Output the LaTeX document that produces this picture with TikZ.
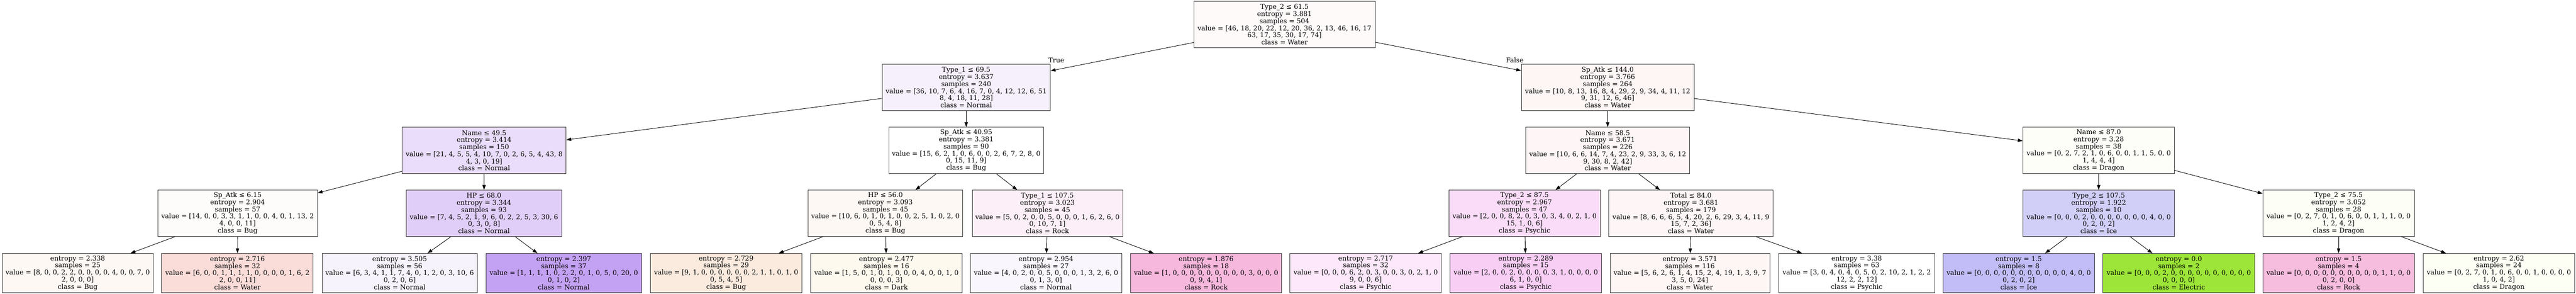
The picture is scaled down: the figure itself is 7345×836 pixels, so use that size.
\documentclass[tikz,border=0pt]{standalone}
\usepackage{fontspec}
\setmainfont{DejaVu Serif}
\usetikzlibrary{arrows.meta}
\definecolor{c0}{HTML}{FEFAFA}
\definecolor{c1}{HTML}{F6F0FD}
\definecolor{c2}{HTML}{FEF5F5}
\definecolor{c3}{HTML}{E9DDFB}
\definecolor{c4}{HTML}{FFFFFF}
\definecolor{c5}{HTML}{FEF6F6}
\definecolor{c6}{HTML}{FEFEF9}
\definecolor{c7}{HTML}{FEFCFA}
\definecolor{c8}{HTML}{E0CEF8}
\definecolor{c9}{HTML}{FEF8F4}
\definecolor{c10}{HTML}{FDEFF7}
\definecolor{c11}{HTML}{FADCF8}
\definecolor{c12}{HTML}{FEF6F6}
\definecolor{c13}{HTML}{D1CEF8}
\definecolor{c14}{HTML}{FDFEF6}
\definecolor{f1}{HTML}{FEF8F4}
\definecolor{f2}{HTML}{FADCD9}
\definecolor{f3}{HTML}{F7F3FD}
\definecolor{f4}{HTML}{C4A2F3}
\definecolor{f5}{HTML}{FBEADE}
\definecolor{f6}{HTML}{FDF9EE}
\definecolor{f7}{HTML}{F9F6FE}
\definecolor{f8}{HTML}{F6B8DC}
\definecolor{f9}{HTML}{FCE8FA}
\definecolor{f10}{HTML}{F8CEF5}
\definecolor{f11}{HTML}{FEF6F5}
\definecolor{f12}{HTML}{FFFFFF}
\definecolor{f13}{HTML}{C2BDF6}
\definecolor{f14}{HTML}{9DE539}
\definecolor{f15}{HTML}{F6BDDE}
\definecolor{f16}{HTML}{FDFEF4}
\begin{document}
\begin{tikzpicture}[x=1pt,y=-1pt,
  tn/.style={rectangle, draw=black!80, line width=1.2pt, align=center, inner sep=0pt,
    minimum height=132pt, font=\fontsize{18.9}{20.2}\selectfont},
  lf/.style={tn, minimum height=111pt},
  ed/.style={-{Triangle[length=14pt,width=9.5pt]}, line width=1.3pt, black},
  el/.style={font=\fontsize{18.9}{20.2}\selectfont, inner sep=0pt}]
\useasboundingbox[fill=white] (0,0) rectangle (7345,836);

% level 0
\node[tn, fill=c0, minimum width=517pt] (n0) at (3662.5,70) {Type\_2 ≤ 61.5\\entropy = 3.881\\samples = 504\\value = [46, 18, 20, 22, 12, 20, 36, 2, 13, 46, 16, 17\\63, 17, 35, 30, 17, 74]\\class = Water};
% level 1
\node[tn, fill=c1, minimum width=480pt] (n1) at (2755,249) {Type\_1 ≤ 69.5\\entropy = 3.637\\samples = 240\\value = [36, 10, 7, 6, 4, 16, 7, 0, 4, 12, 12, 6, 51\\8, 4, 18, 11, 28]\\class = Normal};
\node[tn, fill=c2, minimum width=492pt] (n2) at (4584,249) {Sp\_Atk ≤ 144.0\\entropy = 3.766\\samples = 264\\value = [10, 8, 13, 16, 8, 4, 29, 2, 9, 34, 4, 11, 12\\9, 31, 12, 6, 46]\\class = Water};
% level 2
\node[tn, fill=c3, minimum width=467pt] (n3) at (1380.5,428.5) {Name ≤ 49.5\\entropy = 3.414\\samples = 150\\value = [21, 4, 5, 5, 4, 10, 7, 0, 2, 6, 5, 4, 43, 8\\4, 3, 0, 19]\\class = Normal};
\node[tn, fill=c4, minimum width=442pt] (n4) at (2755,428.5) {Sp\_Atk ≤ 40.95\\entropy = 3.381\\samples = 90\\value = [15, 6, 2, 1, 0, 6, 0, 0, 2, 6, 7, 2, 8, 0\\0, 15, 11, 9]\\class = Bug};
\node[tn, fill=c5, minimum width=468pt] (n5) at (4584,428.5) {Name ≤ 58.5\\entropy = 3.671\\samples = 226\\value = [10, 6, 6, 14, 7, 4, 23, 2, 9, 33, 3, 6, 12\\9, 30, 8, 2, 42]\\class = Water};
\node[tn, fill=c6, minimum width=432pt] (n6) at (5984,428.5) {Name ≤ 87.0\\entropy = 3.28\\samples = 38\\value = [0, 2, 7, 2, 1, 0, 6, 0, 0, 1, 1, 5, 0, 0\\1, 4, 4, 4]\\class = Dragon};
% level 3
\node[tn, fill=c7, minimum width=455pt] (n7) at (677.5,607.5) {Sp\_Atk ≤ 6.15\\entropy = 2.904\\samples = 57\\value = [14, 0, 0, 3, 3, 1, 1, 0, 0, 4, 0, 1, 13, 2\\4, 0, 0, 11]\\class = Bug};
\node[tn, fill=c8, minimum width=444pt] (n8) at (1380,607.5) {HP ≤ 68.0\\entropy = 3.344\\samples = 93\\value = [7, 4, 5, 2, 1, 9, 6, 0, 2, 2, 5, 3, 30, 6\\0, 3, 0, 8]\\class = Normal};
\node[tn, fill=c9, minimum width=441pt] (n9) at (2524.5,607.5) {HP ≤ 56.0\\entropy = 3.093\\samples = 45\\value = [10, 6, 0, 1, 0, 1, 0, 0, 2, 5, 1, 0, 2, 0\\0, 5, 4, 8]\\class = Bug};
\node[tn, fill=c10, minimum width=429pt] (n10) at (2986.5,607.5) {Type\_1 ≤ 107.5\\entropy = 3.023\\samples = 45\\value = [5, 0, 2, 0, 0, 5, 0, 0, 0, 1, 6, 2, 6, 0\\0, 10, 7, 1]\\class = Rock};
\node[tn, fill=c11, minimum width=432pt] (n11) at (4347,607.5) {Type\_2 ≤ 87.5\\entropy = 2.967\\samples = 47\\value = [2, 0, 0, 8, 2, 0, 3, 0, 3, 4, 0, 2, 1, 0\\15, 1, 0, 6]\\class = Psychic};
\node[tn, fill=c12, minimum width=469pt] (n12) at (4821.5,607.5) {Total ≤ 84.0\\entropy = 3.681\\samples = 179\\value = [8, 6, 6, 6, 5, 4, 20, 2, 6, 29, 3, 4, 11, 9\\15, 7, 2, 36]\\class = Water};
\node[tn, fill=c13, minimum width=432pt] (n13) at (5984,607.5) {Type\_2 ≤ 107.5\\entropy = 1.922\\samples = 10\\value = [0, 0, 0, 2, 0, 0, 0, 0, 0, 0, 0, 4, 0, 0\\0, 2, 0, 2]\\class = Ice};
\node[tn, fill=c14, minimum width=432pt] (n14) at (6668,607.5) {Type\_2 ≤ 75.5\\entropy = 3.052\\samples = 28\\value = [0, 2, 7, 0, 1, 0, 6, 0, 0, 1, 1, 1, 0, 0\\1, 2, 4, 2]\\class = Dragon};
% leaves
\node[lf, fill=f1, minimum width=431pt] (l1) at (221.5,777.5) {entropy = 2.338\\samples = 25\\value = [8, 0, 0, 2, 2, 0, 0, 0, 0, 4, 0, 0, 7, 0\\2, 0, 0, 0]\\class = Bug};
\node[lf, fill=f2, minimum width=432pt] (l2) at (677,777.5) {entropy = 2.716\\samples = 32\\value = [6, 0, 0, 1, 1, 1, 1, 0, 0, 0, 0, 1, 6, 2\\2, 0, 0, 11]\\class = Water};
\node[lf, fill=f3, minimum width=443pt] (l3) at (1139.5,777.5) {entropy = 3.505\\samples = 56\\value = [6, 3, 4, 1, 1, 7, 4, 0, 1, 2, 0, 3, 10, 6\\0, 2, 0, 6]\\class = Normal};
\node[lf, fill=f4, minimum width=443pt] (l4) at (1607.5,777.5) {entropy = 2.397\\samples = 37\\value = [1, 1, 1, 1, 0, 2, 2, 0, 1, 0, 5, 0, 20, 0\\0, 1, 0, 2]\\class = Normal};
\node[lf, fill=f5, minimum width=431pt] (l5) at (2070.5,777.5) {entropy = 2.729\\samples = 29\\value = [9, 1, 0, 0, 0, 0, 0, 0, 2, 1, 1, 0, 1, 0\\0, 5, 4, 5]\\class = Bug};
\node[lf, fill=f6, minimum width=431pt] (l6) at (2527.5,777.5) {entropy = 2.477\\samples = 16\\value = [1, 5, 0, 1, 0, 1, 0, 0, 0, 4, 0, 0, 1, 0\\0, 0, 0, 3]\\class = Dark};
\node[lf, fill=f7, minimum width=431pt] (l7) at (2982.5,777.5) {entropy = 2.954\\samples = 27\\value = [4, 0, 2, 0, 0, 5, 0, 0, 0, 1, 3, 2, 6, 0\\0, 1, 3, 0]\\class = Normal};
\node[lf, fill=f8, minimum width=430pt] (l8) at (3439,777.5) {entropy = 1.876\\samples = 18\\value = [1, 0, 0, 0, 0, 0, 0, 0, 0, 0, 3, 0, 0, 0\\0, 9, 4, 1]\\class = Rock};
\node[lf, fill=f9, minimum width=432pt] (l9) at (3894,777.5) {entropy = 2.717\\samples = 32\\value = [0, 0, 0, 6, 2, 0, 3, 0, 0, 3, 0, 2, 1, 0\\9, 0, 0, 6]\\class = Psychic};
\node[lf, fill=f10, minimum width=431pt] (l10) at (4350.5,777.5) {entropy = 2.289\\samples = 15\\value = [2, 0, 0, 2, 0, 0, 0, 0, 3, 1, 0, 0, 0, 0\\6, 1, 0, 0]\\class = Psychic};
\node[lf, fill=f11, minimum width=455pt] (l11) at (4818.5,777.5) {entropy = 3.571\\samples = 116\\value = [5, 6, 2, 6, 1, 4, 15, 2, 4, 19, 1, 3, 9, 7\\3, 5, 0, 24]\\class = Water};
\node[lf, fill=f12, minimum width=446pt] (l12) at (5294,777.5) {entropy = 3.38\\samples = 63\\value = [3, 0, 4, 0, 4, 0, 5, 0, 2, 10, 2, 1, 2, 2\\12, 2, 2, 12]\\class = Psychic};
\node[lf, fill=f13, minimum width=432pt] (l13) at (5756,777.5) {entropy = 1.5\\samples = 8\\value = [0, 0, 0, 0, 0, 0, 0, 0, 0, 0, 0, 4, 0, 0\\0, 2, 0, 2]\\class = Ice};
\node[lf, fill=f14, minimum width=433pt] (l14) at (6212.5,777.5) {entropy = 0.0\\samples = 2\\value = [0, 0, 0, 2, 0, 0, 0, 0, 0, 0, 0, 0, 0, 0\\0, 0, 0, 0]\\class = Electric};
\node[lf, fill=f15, minimum width=432pt] (l15) at (6668,777.5) {entropy = 1.5\\samples = 4\\value = [0, 0, 0, 0, 0, 0, 0, 0, 0, 0, 1, 1, 0, 0\\0, 2, 0, 0]\\class = Rock};
\node[lf, fill=f16, minimum width=432pt] (l16) at (7125,777.5) {entropy = 2.62\\samples = 24\\value = [0, 2, 7, 0, 1, 0, 6, 0, 0, 1, 0, 0, 0, 0\\1, 0, 4, 2]\\class = Dragon};

% edges
\draw[ed] (n0) -- (n1);
\draw[ed] (n0) -- (n2);
\draw[ed] (n1) -- (n3);
\draw[ed] (n1) -- (n4);
\draw[ed] (n2) -- (n5);
\draw[ed] (n2) -- (n6);
\draw[ed] (n3) -- (n7);
\draw[ed] (n3) -- (n8);
\draw[ed] (n4) -- (n9);
\draw[ed] (n4) -- (n10);
\draw[ed] (n5) -- (n11);
\draw[ed] (n5) -- (n12);
\draw[ed] (n6) -- (n13);
\draw[ed] (n6) -- (n14);
\draw[ed] (n7) -- (l1);
\draw[ed] (n7) -- (l2);
\draw[ed] (n8) -- (l3);
\draw[ed] (n8) -- (l4);
\draw[ed] (n9) -- (l5);
\draw[ed] (n9) -- (l6);
\draw[ed] (n10) -- (l7);
\draw[ed] (n10) -- (l8);
\draw[ed] (n11) -- (l9);
\draw[ed] (n11) -- (l10);
\draw[ed] (n12) -- (l11);
\draw[ed] (n12) -- (l12);
\draw[ed] (n13) -- (l13);
\draw[ed] (n13) -- (l14);
\draw[ed] (n14) -- (l15);
\draw[ed] (n14) -- (l16);

% edge labels
\node[el] (tl) at (3012,172) {True};
\node[el] (fl) at (4319,172) {False};
\end{tikzpicture}
\end{document}
